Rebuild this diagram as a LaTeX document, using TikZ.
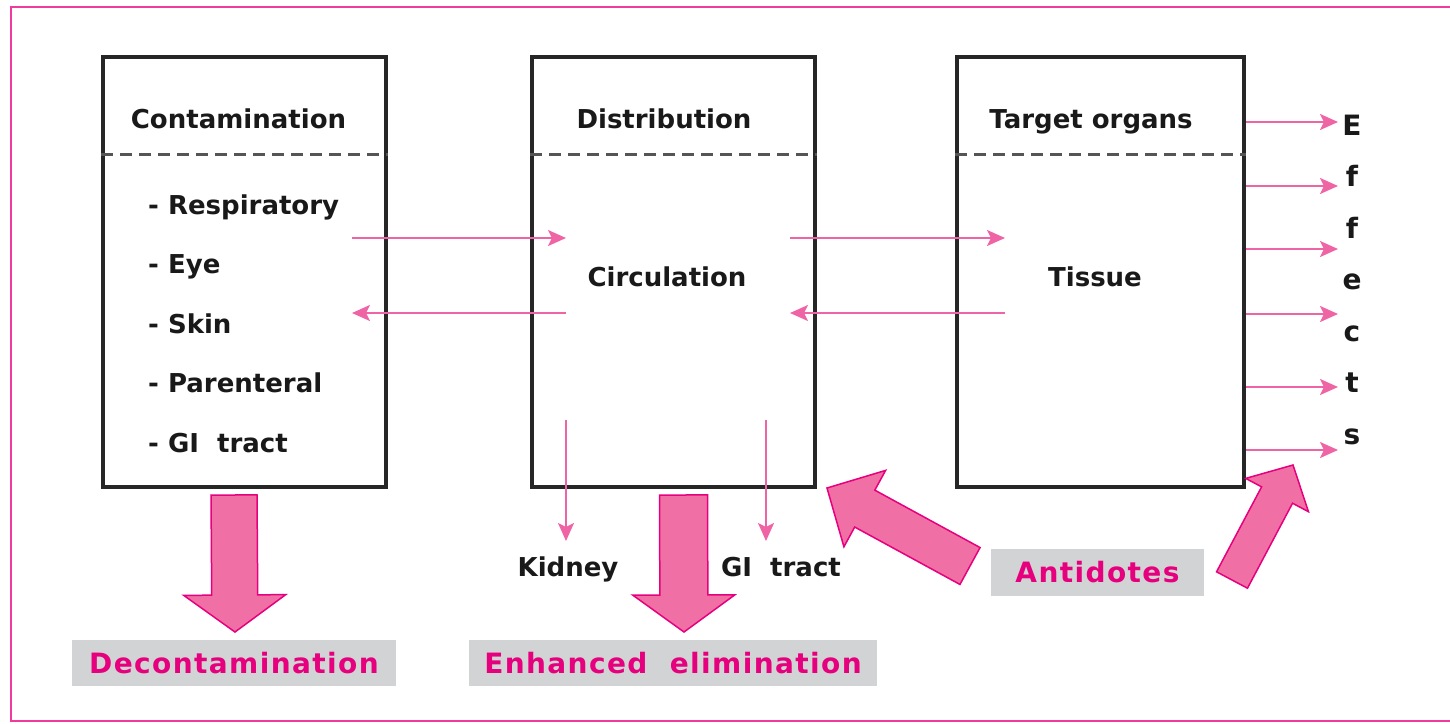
\documentclass[tikz,border=0pt]{standalone}
\usepackage{fontspec}
\setmainfont{DejaVu Sans}
\newfontfamily\boxfont{DejaVu Sans}
\newfontfamily\tagfont{DejaVu Sans}[LetterSpace=5]
\usepackage{tikz}
\usetikzlibrary{arrows.meta,positioning,calc}
\definecolor{framepink}{HTML}{F03A9C}
\definecolor{linepink}{HTML}{EE64A5}
\definecolor{fatfill}{HTML}{F070A6}
\definecolor{fatdraw}{HTML}{E6007E}
\definecolor{tagtext}{HTML}{E6007E}
\definecolor{taggray}{HTML}{D1D3D4}
\definecolor{boxline}{HTML}{262626}
\definecolor{dashgray}{HTML}{555555}

% from, to, half shaft, half head, head length
\newcommand{\fatarrow}[5]{%
  \coordinate (#1-hb) at ($(#2)!#5!(#1)$);
  \filldraw[fat] ($(#1)!#3!90:(#2)$) -- ($(#1-hb)!#3!90:(#2)$) -- ($(#1-hb)!#4!90:(#2)$)
    -- (#2) -- ($(#1-hb)!#4!-90:(#2)$) -- ($(#1-hb)!#3!-90:(#2)$) -- ($(#1)!#3!-90:(#2)$) -- cycle;
}

\begin{document}
\begin{tikzpicture}[
    x=1pt, y=-1pt,
    box/.style={draw=boxline, line width=4pt, minimum width=283pt, minimum height=430pt},
    txt/.style={font=\boxfont\bfseries\fontsize{26}{30}\selectfont, text=black!90, inner sep=0pt},
    eff/.style={font=\boxfont\bfseries\fontsize{28}{32}\selectfont, text=black!90, inner sep=0pt, anchor=base},
    tag/.style={fill=taggray, text=tagtext, font=\tagfont\bfseries\fontsize{28}{32}\selectfont, minimum height=46pt, text height=20pt, text depth=0pt},
    sep/.style={dashgray, line width=3pt, dash pattern=on 12pt off 7pt},
    flow/.style={linepink, line width=2.2pt, -{Stealth[length=18pt, width=16pt, inset=4pt]}},
    fat/.style={fill=fatfill, draw=fatdraw, line width=1.5pt, line join=miter},
    frame/.style={draw=framepink, line width=2.5pt}
]
\useasboundingbox (0,0) rectangle (1450,723);
\draw[frame] (11,7) rectangle (1475,721);

\node[box] (cont) at (244.5,272) {};
\node[box] (dist) at (673.5,272) {};
\node[box, minimum width=287pt] (targ) at (1100.5,272) {};

\draw[sep] (cont.west |- 0,154) -- (cont.east |- 0,154);
\draw[sep] (dist.west |- 0,154) -- (dist.east |- 0,154);
\draw[sep] (targ.west |- 0,154) -- (targ.east |- 0,154);

\node[txt, anchor=base] (conttitle) at (238.5,128) {Contamination};
\node[txt, anchor=base] (disttitle) at (664,128) {Distribution};
\node[txt, anchor=base] (targtitle) at (1091,128) {Target organs};

\foreach \route [count=\i] in {Respiratory, Eye, Skin, Parenteral, GI\ \ tract}
  \node[txt, anchor=base west] (route\i) at (148, 154.5+59.5*\i) {- \route};

\node[txt, anchor=base] (circ) at (667,286) {Circulation};
\node[txt, anchor=base] (tissue) at (1095,286) {Tissue};
\node[txt, anchor=base] (kidney) at (568,576) {Kidney};
\node[txt, anchor=base] (gitract) at (781,576) {GI\ \ tract};

\foreach \l [count=\i from 0] in {E,f,f,e,c,t,s}
  \node[eff] (eff\i) at (1352, 135+51.5*\i) {\l};

% thin flows
\coordinate (c-up) at (352,238);
\coordinate (d-up-l) at (566,238);
\coordinate (d-up-r) at (790,238);
\coordinate (t-up) at (1005,238);
\coordinate (c-lo) at (352,313);
\coordinate (d-lo-l) at (566,313);
\coordinate (d-lo-r) at (790,313);
\coordinate (t-lo) at (1005,313);
\draw[flow] (c-up) -- (d-up-l);
\draw[flow] (d-lo-l) -- (c-lo);
\draw[flow] (d-up-r) -- (t-up);
\draw[flow] (t-lo) -- (d-lo-r);

\coordinate (kid-top) at (566,420);
\coordinate (kid-end) at (566,541);
\coordinate (gi-top) at (766,420);
\coordinate (gi-end) at (766,541);
\draw[flow] (kid-top) -- (kid-end);
\draw[flow] (gi-top) -- (gi-end);

\foreach \y in {122,186,249,314,387,450} {
  \coordinate (out\y) at (1338,\y);
  \draw[flow] (targ.east |- 0,\y) -- (out\y);
}

% treatment labels
\node[tag, minimum width=324pt] (decon) at (234,663) {Decontamination};
\node[tag, minimum width=408pt] (elim) at (673,663) {Enhanced\ \ elimination};
\node[tag, minimum width=213pt, minimum height=47pt] (antid) at (1097.5,572.5) {Antidotes};

% big arrows
\coordinate (dc-s) at (234,495);
\coordinate (dc-t) at (235,632);
\fatarrow{dc-s}{dc-t}{23pt}{51pt}{37pt}
\coordinate (el-s) at (683.5,495);
\coordinate (el-t) at (684,632);
\fatarrow{el-s}{el-t}{24pt}{51pt}{37pt}
\coordinate (an1-s) at (970,566);
\coordinate (an1-t) at (827,488);
\fatarrow{an1-s}{an1-t}{21pt}{43.5pt}{43pt}
\coordinate (an2-s) at (1232,580);
\coordinate (an2-t) at (1293,465);
\fatarrow{an2-s}{an2-t}{17.5pt}{35.5pt}{34pt}

\end{tikzpicture}
\end{document}
